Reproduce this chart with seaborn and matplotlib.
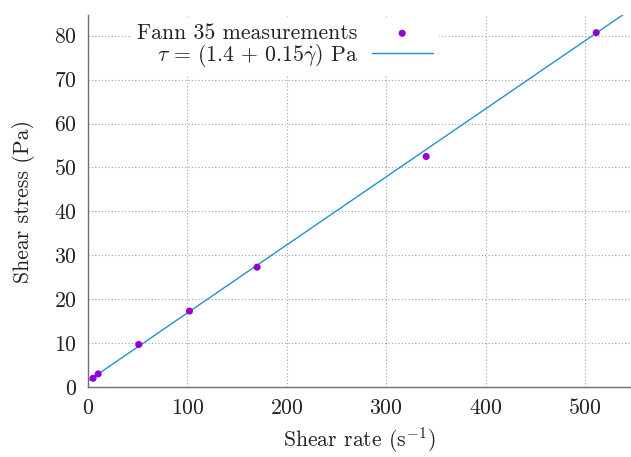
import numpy as np
import pandas as pd
import seaborn as sns
import matplotlib.pyplot as plt

# Data
shear_rate = [5.1, 10.2, 51, 102, 170, 340, 511]
shear_stress = [2.0, 3.0, 9.7, 17.3, 27.3, 52.5, 80.7]

# fitted line (as drawn in the picture)
fit_x = [0, 545]
fit_intercept = 1.4
fit_slope = 0.155

x_ticks = [0, 100, 200, 300, 400, 500]
y_ticks = [0, 10, 20, 30, 40, 50, 60, 70, 80]

sns.set_theme(style="white")
plt.rcParams['font.family'] = ['cmr10', 'DejaVu Serif']
plt.rcParams['mathtext.fontset'] = 'cm'
plt.rcParams['axes.formatter.use_mathtext'] = True
plt.rcParams['axes.unicode_minus'] = False

text_col = '#222222'
fs = 15.7

fig = plt.figure(figsize=(6.31, 4.57), dpi=100)
ax = fig.add_axes([0.1395, 0.153, 0.859, 0.814])

pts = pd.DataFrame({"rate": shear_rate, "stress": shear_stress})
line = pd.DataFrame({"rate": fit_x,
                     "stress": [fit_intercept + fit_slope * v for v in fit_x]})

sns.scatterplot(data=pts, x="rate", y="stress", ax=ax, color='#9400d3',
                s=26, edgecolor='none', label='Fann 35 measurements', zorder=3)
sns.lineplot(data=line, x="rate", y="stress", ax=ax, color='#2390d0', lw=1.0,
             label=r'$\tau\,=\,(1.4\,+\,0.15\dot{\gamma})$ Pa', zorder=2)

ax.set_xlim(0, 545)
ax.set_ylim(0, 84.7)
ax.set_xticks(x_ticks)
ax.set_yticks(y_ticks)
ax.grid(True, color='#a0a0a0', linestyle=(0, (1, 2)), linewidth=0.8)
ax.set_axisbelow(True)

for s in ['top', 'right']:
    ax.spines[s].set_visible(False)
for s in ['left', 'bottom']:
    ax.spines[s].set_color('#707070')
    ax.spines[s].set_linewidth(1.0)

ax.tick_params(axis='both', direction='out', length=4, width=0.8, color='#707070',
               labelsize=fs, labelcolor=text_col, pad=4)
ax.set_xlabel(r'Shear rate (s$^{-1}$)', fontsize=fs, color=text_col, labelpad=5)
ax.set_ylabel('Shear stress (Pa)', fontsize=fs, color=text_col, labelpad=14)

leg = ax.legend(loc='upper right', bbox_to_anchor=(0.648, 0.995), borderaxespad=0,
                markerfirst=False, frameon=True, fancybox=False, fontsize=fs,
                handlelength=2.8, handletextpad=0.65, labelspacing=-0.05,
                borderpad=0.3)
leg.get_frame().set_facecolor('white')
leg.get_frame().set_edgecolor('none')
leg.get_frame().set_alpha(1)
for t in leg.get_texts():
    t.set_color(text_col)

fig.savefig('out.png', dpi=100)
